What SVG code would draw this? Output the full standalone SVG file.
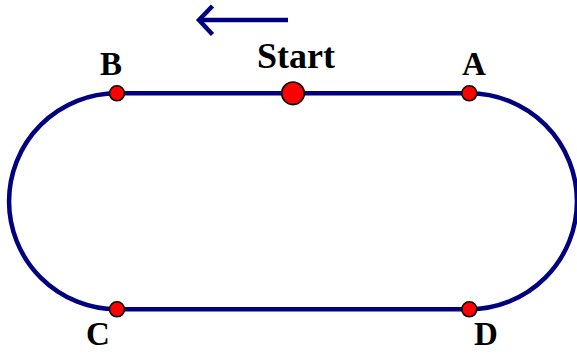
<svg xmlns="http://www.w3.org/2000/svg" width="577" height="356" viewBox="0 0 577 356">
<style>
.track{fill:none;stroke:#000080;stroke-width:4.5}
.pt{fill:#ff0000;stroke:#000;stroke-width:1.6}
.lbl{font-family:"Liberation Serif","Times New Roman",serif;font-weight:bold;font-size:33px;fill:#000;text-anchor:middle}
</style>
<rect width="577" height="356" fill="#fff"/>
<g id="connectors">
<path class="track" d="M117,93.3 L469,93.3 A108,108 0 0 1 469,309.3 L117,309.3 A108,108 0 0 1 117,93.3 Z"/>
<g id="direction-arrow" fill="none" stroke="#000080" stroke-width="4.5">
<line x1="200" y1="20" x2="288" y2="20"/>
<polyline points="212.5,6 199,20 212.5,34.5"/>
</g>
</g>
<g id="start"><circle class="pt" cx="293" cy="93.3" r="11.3" stroke-width="2.2"/><text class="lbl" x="296" y="67.5" style="font-size:36px">Start</text></g>
<g id="A"><circle class="pt" cx="469.3" cy="93.3" r="7.5"/><text class="lbl" x="474" y="75">A</text></g>
<g id="B"><circle class="pt" cx="117" cy="93.3" r="7.5"/><text class="lbl" x="111" y="75">B</text></g>
<g id="C"><circle class="pt" cx="117" cy="309.3" r="7.5"/><text class="lbl" x="98" y="345">C</text></g>
<g id="D"><circle class="pt" cx="469.3" cy="309.3" r="7.5"/><text class="lbl" x="486" y="345">D</text></g>
</svg>
